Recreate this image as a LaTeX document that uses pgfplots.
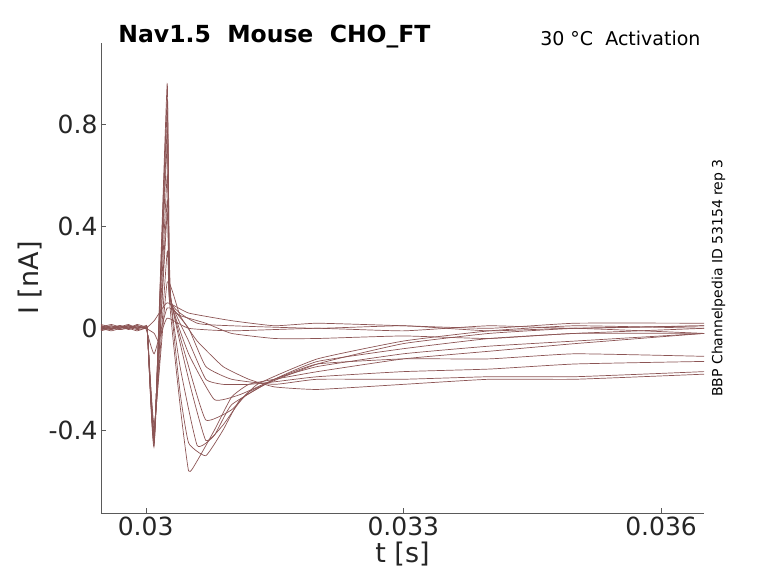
\documentclass[border=0pt]{standalone}
\usepackage{pgfplots}
\pgfplotsset{compat=1.18}
\usepackage{fontspec}
\setmainfont{DejaVu Sans}
\definecolor{tr}{RGB}{140,85,85}
\definecolor{ax}{RGB}{90,90,90}
\begin{document}
\begin{tikzpicture}
\begin{axis}[scale only axis, width=603pt, height=470pt,
 xmin=0.02948, xmax=0.0365, ymin=-0.725, ymax=1.12,
 axis lines*=left, axis line style={ax},
 scaled ticks=false,
 xtick={0.03,0.033,0.036}, xticklabels={0.03,0.033,0.036},
 ytick={-0.4,0,0.4,0.8}, yticklabels={-0.4,0,0.4,0.8},
 tick align=inside, major tick length=5pt, tick style={ax},
 ticklabel style={font=\fontsize{25}{28}\selectfont, text=black!85},
 xlabel={t [s]}, ylabel={I [nA]},
 label style={font=\fontsize{27}{30}\selectfont, text=black!85},
 cycle list={{solid}},
 every axis plot post/.append style={color=tr, solid, mark=none, line width=0.7pt, smooth, tension=0.25},
 clip=false]
\addplot coordinates {(0.02948,0.005)(0.0296,-0.005)(0.0297,0.01)(0.0298,0.0)(0.0299,0.01)(0.0300,0.0)(0.03002,-0.01)(0.0301,-0.46)(0.03025,0.96)(0.03027,0.15)(0.0304,-0.3)(0.0305,-0.56)(0.0306,-0.52)(0.0308,-0.4)(0.031,-0.27)(0.0312,-0.22)(0.0315,-0.2)(0.032,-0.17)(0.033,-0.12)(0.034,-0.09)(0.035,-0.06)(0.0365,-0.02)};
\addplot coordinates {(0.02948,-0.005)(0.0296,0.005)(0.0297,0.0)(0.0298,0.01)(0.0299,0.0)(0.0300,0.005)(0.03002,-0.01)(0.0301,-0.45)(0.03025,0.9)(0.03028,0.17)(0.0304,-0.25)(0.0305,-0.45)(0.0307,-0.5)(0.0309,-0.4)(0.0311,-0.28)(0.0315,-0.2)(0.032,-0.15)(0.033,-0.1)(0.034,-0.07)(0.035,-0.05)(0.0365,-0.02)};
\addplot coordinates {(0.02948,0.01)(0.0296,0.0)(0.0297,0.005)(0.0298,0.015)(0.0299,0.0)(0.0300,0.01)(0.03002,-0.01)(0.0301,-0.44)(0.03025,0.85)(0.03028,0.16)(0.0304,-0.15)(0.0306,-0.46)(0.0308,-0.42)(0.031,-0.3)(0.0315,-0.2)(0.032,-0.13)(0.033,-0.08)(0.034,-0.04)(0.035,-0.02)(0.0365,0.0)};
\addplot coordinates {(0.02948,0.0)(0.0296,0.01)(0.0297,-0.005)(0.0298,0.005)(0.0299,0.01)(0.0300,0.0)(0.03002,-0.01)(0.0301,-0.43)(0.03025,0.78)(0.03028,0.15)(0.0305,-0.2)(0.0307,-0.44)(0.0309,-0.38)(0.0312,-0.25)(0.032,-0.14)(0.033,-0.06)(0.034,-0.02)(0.035,0.0)(0.0365,0.01)};
\addplot coordinates {(0.02948,0.015)(0.0296,0.005)(0.0297,0.01)(0.0298,0.0)(0.0299,0.015)(0.0300,0.005)(0.03002,-0.01)(0.0301,-0.42)(0.03025,0.72)(0.03028,0.14)(0.0305,-0.15)(0.0307,-0.36)(0.031,-0.32)(0.0313,-0.22)(0.032,-0.12)(0.033,-0.05)(0.034,-0.01)(0.035,0.01)(0.0365,0.0)};
\addplot coordinates {(0.02948,0.0)(0.0296,-0.01)(0.0297,0.0)(0.0298,0.005)(0.0299,-0.005)(0.0300,0.0)(0.03002,-0.01)(0.0301,-0.42)(0.03025,0.6)(0.03028,0.13)(0.0305,-0.1)(0.0308,-0.28)(0.0311,-0.26)(0.0315,-0.2)(0.032,-0.14)(0.033,-0.12)(0.034,-0.12)(0.035,-0.1)(0.0365,-0.11)};
\addplot coordinates {(0.02948,0.005)(0.0296,0.015)(0.0297,0.005)(0.0298,0.01)(0.0299,0.0)(0.0300,0.005)(0.03002,-0.01)(0.0301,-0.41)(0.03025,0.45)(0.03028,0.12)(0.0305,-0.05)(0.0307,-0.2)(0.0309,-0.22)(0.0312,-0.22)(0.0315,-0.21)(0.032,-0.19)(0.033,-0.17)(0.034,-0.16)(0.035,-0.14)(0.0365,-0.13)};
\addplot coordinates {(0.02948,-0.005)(0.0296,0.0)(0.0297,0.01)(0.0298,-0.005)(0.0299,0.005)(0.0300,0.0)(0.03002,-0.01)(0.0301,-0.40)(0.03025,0.3)(0.03028,0.1)(0.0305,0.0)(0.0307,-0.15)(0.031,-0.2)(0.0315,-0.22)(0.032,-0.2)(0.033,-0.2)(0.034,-0.19)(0.035,-0.19)(0.0365,-0.17)};
\addplot coordinates {(0.02948,0.01)(0.0296,0.0)(0.0297,0.005)(0.0298,0.01)(0.0299,0.005)(0.0300,0.0)(0.03002,-0.01)(0.0301,-0.38)(0.03025,0.18)(0.0304,0.05)(0.0306,-0.05)(0.0309,-0.15)(0.0312,-0.2)(0.0315,-0.23)(0.032,-0.24)(0.033,-0.22)(0.034,-0.2)(0.035,-0.2)(0.0365,-0.18)};
\addplot coordinates {(0.02948,0.0)(0.0296,0.01)(0.0297,0.0)(0.0298,0.01)(0.0299,0.0)(0.0300,0.0)(0.0301,-0.1)(0.03025,0.08)(0.0304,0.05)(0.0307,0.02)(0.031,-0.02)(0.0315,-0.04)(0.032,-0.04)(0.033,-0.03)(0.034,-0.04)(0.035,-0.02)(0.0365,-0.02)};
\addplot coordinates {(0.02948,0.01)(0.0296,0.0)(0.0297,0.01)(0.0298,0.005)(0.0299,0.01)(0.0300,0.0)(0.0301,0.03)(0.03025,0.1)(0.0305,0.06)(0.031,0.03)(0.0315,0.01)(0.032,0.02)(0.033,0.01)(0.034,0.0)(0.035,0.02)(0.0365,0.02)};
\addplot coordinates {(0.02948,-0.01)(0.0296,0.0)(0.0297,-0.005)(0.0298,0.0)(0.0299,-0.01)(0.0300,0.0)(0.0301,-0.02)(0.03015,-0.05)(0.03025,0.04)(0.0305,0.0)(0.031,-0.01)(0.032,0.0)(0.033,-0.01)(0.034,0.01)(0.035,0.0)(0.0365,0.01)};
\addplot coordinates {(0.02948,0.005)(0.0296,-0.005)(0.0297,0.005)(0.0298,0.0)(0.0299,0.005)(0.0300,0.0)(0.03002,-0.01)(0.0301,-0.44)(0.03025,0.5)(0.0303,0.1)(0.0306,0.02)(0.031,0.01)(0.032,0.0)(0.033,0.01)(0.034,-0.01)(0.035,0.0)(0.0365,-0.02)};
\node[anchor=base west, font=\bfseries\fontsize{23.5}{26}\selectfont] at (rel axis cs:0.023,1.0) {Nav1.5\ \ Mouse\ \ CHO\_FT};
\node[anchor=base east, font=\fontsize{19}{22}\selectfont] at (rel axis cs:1,0.995) {30 °C\ \ Activation};
\node[rotate=90, font=\fontsize{14}{16}\selectfont] at (rel axis cs:1.024,0.50) {BBP Channelpedia ID 53154 rep 3};
\end{axis}
\path[use as bounding box] (-101pt,-70pt) rectangle (677pt,513pt);
\end{tikzpicture}
\end{document}
